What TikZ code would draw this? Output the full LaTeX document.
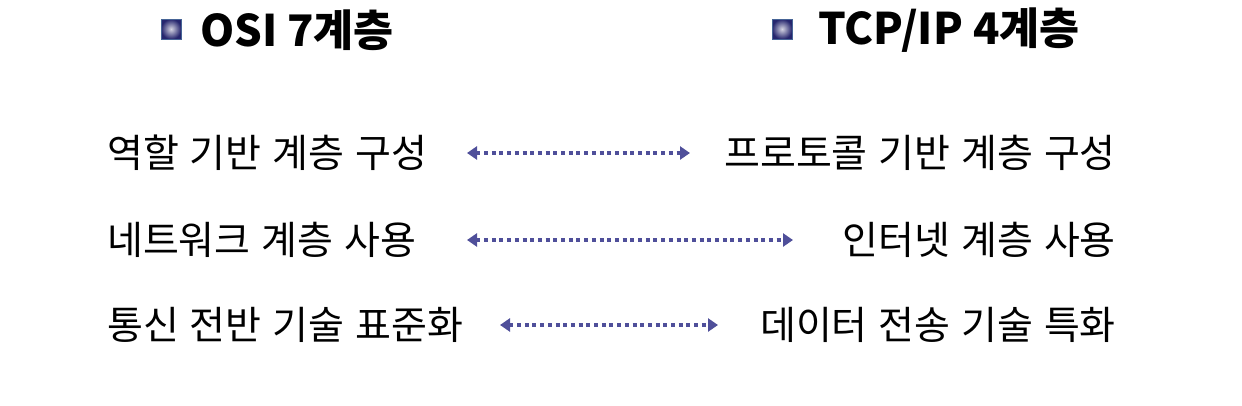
\documentclass[tikz,border=0pt]{standalone}
\usepackage{fontspec}
\setmainfont{Noto Sans CJK KR}
\newfontfamily\itemfont{Noto Sans CJK KR}[WordSpace=1.25]
\usetikzlibrary{arrows.meta}
\definecolor{arrowblue}{RGB}{79,79,154}
\definecolor{bulletdark}{RGB}{38,38,110}
\definecolor{bulletedge}{RGB}{70,100,150}
\begin{document}
\begin{tikzpicture}[x=1pt, y=-1pt,
        item/.style={inner sep=0pt, font=\itemfont\fontsize{39}{44}\selectfont},
        title/.style={inner sep=0pt, anchor=west, font=\fontsize{43.5}{48}\selectfont\bfseries},
        bullet/.style={draw=bulletedge, line width=1pt, inner sep=0pt, minimum size=20pt,
            shading=radial, inner color=white!80!bulletdark, outer color=bulletdark},
        link/.style={arrowblue, line width=4pt, dash pattern=on 4pt off 3.7pt,
            {Triangle[length=10pt,width=13pt]}-{Triangle[length=10pt,width=13pt]}}
    ]
        \useasboundingbox (0,0) rectangle (1242,405);

        % titles
        \node[bullet] (osibullet) at (171, 29) {};
        \node[title] (osi) at (200, 30) {OSI 7계층};
        \node[bullet] (tcpbullet) at (782, 29) {};
        \node[title] (tcp) at (818, 30) {TCP/IP 4계층};

        % left column
        \node[item, anchor=west] (osi1) at (107, 153) {역할 기반 계층 구성};
        \node[item, anchor=west] (osi2) at (107, 240) {네트워크 계층 사용};
        \node[item, anchor=west] (osi3) at (107, 325) {통신 전반 기술 표준화};

        % right column
        \node[item, anchor=east] (tcp1) at (1116, 153) {프로토콜 기반 계층 구성};
        \node[item, anchor=east] (tcp2) at (1116, 240) {인터넷 계층 사용};
        \node[item, anchor=east] (tcp3) at (1116, 325) {데이터 전송 기술 특화};

        % arrow ends
        \coordinate (l1) at (467, 153); \coordinate (r1) at (690, 153);
        \coordinate (l2) at (467, 240); \coordinate (r2) at (793, 240);
        \coordinate (l3) at (500, 325); \coordinate (r3) at (718, 325);

        \draw[link] (l1) -- (r1);
        \draw[link] (l2) -- (r2);
        \draw[link] (l3) -- (r3);
    \end{tikzpicture}
\end{document}
